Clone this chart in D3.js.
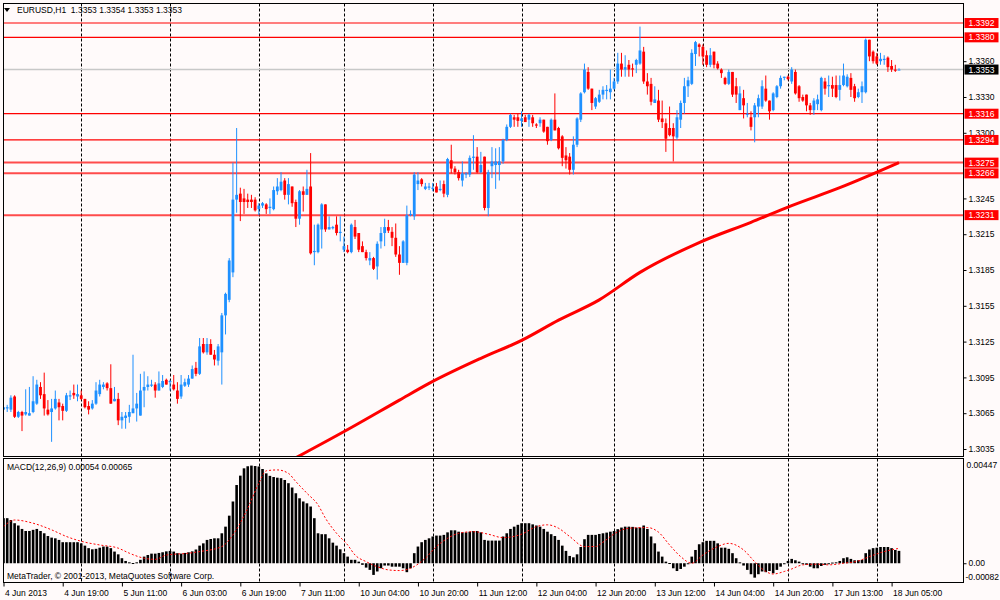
<!DOCTYPE html>
<html>
<head>
<meta charset="utf-8">
<title>EURUSD,H1</title>
<script src="https://cdn.jsdelivr.net/npm/d3@7/dist/d3.min.js"></script>
<style>
  body { margin: 0; background: #fffafa; }
  svg text { font-family: "Liberation Sans", Arial, sans-serif; font-size: 8.5px; }
  .grid { stroke: #000; stroke-width: 1; stroke-dasharray: 3,2; }
  .frame { fill: none; stroke: #000; stroke-width: 1; }
</style>
</head>
<body>
<svg id="chart" width="1000" height="600"></svg>
<script>
// EURUSD H1, 4 Jun 2013 03:00 .. 18 Jun 2013 05:00
var symbol = 'EURUSD', period = 'H1';

var opens = [
  1.3068,1.3069,1.3068,1.3079,1.3062,1.3066,1.3064,1.3063,1.3066,1.3073,
  1.3087,1.3081,1.3068,1.3066,1.3069,1.3074,1.3071,1.3067,1.3079,1.3082,
  1.3079,1.3080,1.3077,1.3071,1.3069,1.3073,1.3081,1.3087,1.3090,1.3086,
  1.3075,1.3077,1.3059,1.3061,1.3062,1.3065,1.3069,1.3063,1.3084,1.3087,
  1.3088,1.3089,1.3084,1.3087,1.3093,1.3091,1.3089,1.3084,1.3079,1.3088,
  1.3089,1.3094,1.3103,1.3098,1.3123,1.3116,1.3123,1.3114,1.3109,1.3116,
  1.3147,1.3160,1.3183,1.3244,1.3249,1.3245,1.3244,1.3244,1.3244,1.3236,
  1.3239,1.3240,1.3237,1.3236,1.3251,1.3252,1.3260,1.3248,1.3255,1.3242,
  1.3228,1.3251,1.3248,1.3255,1.3200,1.3200,1.3219,1.3240,1.3219,1.3220,
  1.3223,1.3216,1.3202,1.3202,1.3200,1.3221,1.3216,1.3205,1.3200,1.3193,
  1.3195,1.3188,1.3209,1.3216,1.3221,1.3217,1.3212,1.3198,1.3191,1.3191,
  1.3231,1.3230,1.3257,1.3261,1.3253,1.3254,1.3253,1.3255,1.3252,1.3257,
  1.3248,1.3277,1.3270,1.3267,1.3260,1.3265,1.3265,1.3279,1.3280,1.3267,
  1.3280,1.3237,1.3272,1.3273,1.3273,1.3276,1.3294,1.3305,1.3313,1.3313,
  1.3310,1.3313,1.3311,1.3313,1.3307,1.3308,1.3311,1.3305,1.3294,1.3311,
  1.3304,1.3297,1.3281,1.3280,1.3269,1.3290,1.3311,1.3334,1.3351,1.3337,
  1.3322,1.3326,1.3332,1.3335,1.3334,1.3337,1.3343,1.3358,1.3353,1.3357,
  1.3354,1.3357,1.3358,1.3368,1.3343,1.3341,1.3325,1.3327,1.3312,1.3308,
  1.3304,1.3304,1.3296,1.3311,1.3325,1.3339,1.3341,1.3366,1.3374,1.3372,
  1.3365,1.3357,1.3368,1.3358,1.3353,1.3346,1.3341,1.3351,1.3339,1.3319,
  1.3329,1.3315,1.3313,1.3313,1.3322,1.3322,1.3337,1.3327,1.3319,1.3330,
  1.3339,1.3346,1.3347,1.3343,1.3351,1.3339,1.3330,1.3332,1.3323,1.3319,
  1.3324,1.3319,1.3343,1.3339,1.3340,1.3340,1.3336,1.3340,1.3339,1.3346,
  1.3339,1.3330,1.3334,1.3334,1.3378,1.3368,1.3364,1.3360,1.3361,1.3363,
  1.3356,1.3353,1.3353
];
var highs = [
  1.3073,1.3072,1.3080,1.3080,1.3067,1.3067,1.3085,1.3087,1.3096,1.3093,
  1.3091,1.3099,1.3076,1.3077,1.3084,1.3077,1.3073,1.3082,1.3084,1.3089,
  1.3089,1.3084,1.3077,1.3075,1.3076,1.3091,1.3093,1.3091,1.3091,1.3106,
  1.3087,1.3082,1.3066,1.3066,1.3072,1.3114,1.3082,1.3098,1.3100,1.3096,
  1.3093,1.3091,1.3100,1.3097,1.3094,1.3093,1.3097,1.3091,1.3097,1.3094,
  1.3097,1.3105,1.3108,1.3128,1.3128,1.3128,1.3127,1.3118,1.3123,1.3149,
  1.3166,1.3195,1.3275,1.3304,1.3254,1.3253,1.3249,1.3248,1.3246,1.3241,
  1.3242,1.3241,1.3245,1.3255,1.3262,1.3267,1.3262,1.3262,1.3255,1.3244,
  1.3252,1.3255,1.3269,1.3283,1.3223,1.3224,1.3241,1.3240,1.3230,1.3222,
  1.3230,1.3230,1.3213,1.3206,1.3224,1.3227,1.3216,1.3209,1.3202,1.3200,
  1.3196,1.3209,1.3221,1.3228,1.3227,1.3221,1.3224,1.3205,1.3210,1.3239,
  1.3235,1.3267,1.3267,1.3262,1.3258,1.3258,1.3258,1.3258,1.3260,1.3260,
  1.3279,1.3290,1.3272,1.3269,1.3276,1.3267,1.3281,1.3298,1.3288,1.3284,
  1.3280,1.3269,1.3288,1.3287,1.3288,1.3295,1.3307,1.3316,1.3315,1.3316,
  1.3318,1.3315,1.3316,1.3315,1.3308,1.3313,1.3311,1.3305,1.3312,1.3333,
  1.3305,1.3298,1.3288,1.3283,1.3297,1.3313,1.3334,1.3358,1.3355,1.3337,
  1.3330,1.3336,1.3339,1.3340,1.3353,1.3346,1.3367,1.3367,1.3365,1.3361,
  1.3358,1.3362,1.3389,1.3372,1.3350,1.3346,1.3339,1.3336,1.3327,1.3312,
  1.3322,1.3308,1.3319,1.3327,1.3346,1.3347,1.3370,1.3377,1.3375,1.3374,
  1.3369,1.3371,1.3368,1.3360,1.3354,1.3347,1.3353,1.3351,1.3346,1.3339,
  1.3336,1.3325,1.3318,1.3325,1.3332,1.3344,1.3348,1.3327,1.3334,1.3340,
  1.3348,1.3347,1.3348,1.3355,1.3353,1.3340,1.3332,1.3332,1.3325,1.3329,
  1.3332,1.3347,1.3346,1.3348,1.3347,1.3348,1.3348,1.3358,1.3349,1.3350,
  1.3341,1.3337,1.3343,1.3379,1.3378,1.3369,1.3367,1.3367,1.3365,1.3364,
  1.3361,1.3357,1.3354
];
var lows = [
  1.3063,1.3066,1.3066,1.3061,1.3061,1.3050,1.3063,1.3063,1.3065,1.3072,
  1.3077,1.3063,1.3063,1.3041,1.3068,1.3059,1.3059,1.3066,1.3076,1.3077,
  1.3075,1.3076,1.3069,1.3064,1.3068,1.3072,1.3079,1.3085,1.3084,1.3073,
  1.3075,1.3055,1.3052,1.3052,1.3057,1.3065,1.3058,1.3063,1.3070,1.3084,
  1.3087,1.3078,1.3084,1.3086,1.3089,1.3084,1.3084,1.3073,1.3077,1.3087,
  1.3087,1.3094,1.3096,1.3097,1.3115,1.3114,1.3114,1.3105,1.3105,1.3089,
  1.3131,1.3158,1.3179,1.3233,1.3226,1.3232,1.3237,1.3237,1.3234,1.3231,
  1.3237,1.3232,1.3232,1.3235,1.3248,1.3251,1.3244,1.3240,1.3238,1.3221,
  1.3223,1.3234,1.3248,1.3198,1.3189,1.3199,1.3203,1.3217,1.3219,1.3219,
  1.3214,1.3209,1.3200,1.3199,1.3199,1.3211,1.3200,1.3200,1.3193,1.3189,
  1.3185,1.3177,1.3203,1.3205,1.3216,1.3205,1.3196,1.3181,1.3191,1.3189,
  1.3230,1.3227,1.3252,1.3255,1.3252,1.3252,1.3251,1.3250,1.3251,1.3246,
  1.3246,1.3266,1.3265,1.3260,1.3255,1.3262,1.3263,1.3269,1.3266,1.3266,
  1.3235,1.3230,1.3262,1.3253,1.3260,1.3274,1.3293,1.3304,1.3305,1.3305,
  1.3305,1.3309,1.3305,1.3305,1.3304,1.3305,1.3300,1.3290,1.3293,1.3302,
  1.3286,1.3272,1.3270,1.3265,1.3265,1.3288,1.3309,1.3333,1.3336,1.3319,
  1.3320,1.3325,1.3328,1.3328,1.3328,1.3336,1.3341,1.3347,1.3347,1.3347,
  1.3347,1.3350,1.3357,1.3341,1.3332,1.3323,1.3325,1.3309,1.3304,1.3284,
  1.3297,1.3276,1.3294,1.3304,1.3316,1.3330,1.3340,1.3356,1.3364,1.3357,
  1.3355,1.3355,1.3354,1.3353,1.3346,1.3340,1.3340,1.3330,1.3325,1.3319,
  1.3312,1.3313,1.3302,1.3292,1.3313,1.3320,1.3326,1.3311,1.3318,1.3329,
  1.3337,1.3344,1.3344,1.3341,1.3332,1.3326,1.3326,1.3318,1.3315,1.3315,
  1.3319,1.3318,1.3332,1.3330,1.3330,1.3329,1.3327,1.3339,1.3338,1.3330,
  1.3326,1.3329,1.3325,1.3333,1.3360,1.3358,1.3357,1.3357,1.3357,1.3351,
  1.3351,1.3351,1.3353
];
var closes = [
  1.3070,1.3070,1.3078,1.3062,1.3066,1.3063,1.3066,1.3065,1.3075,1.3089,
  1.3080,1.3069,1.3064,1.3069,1.3077,1.3070,1.3067,1.3080,1.3080,1.3080,
  1.3081,1.3077,1.3070,1.3068,1.3073,1.3084,1.3089,1.3089,1.3086,1.3073,
  1.3077,1.3059,1.3062,1.3063,1.3066,1.3069,1.3073,1.3084,1.3087,1.3089,
  1.3089,1.3084,1.3090,1.3092,1.3089,1.3092,1.3085,1.3077,1.3089,1.3091,
  1.3094,1.3102,1.3098,1.3121,1.3116,1.3123,1.3114,1.3110,1.3121,1.3147,
  1.3165,1.3193,1.3244,1.3248,1.3242,1.3242,1.3242,1.3242,1.3235,1.3239,
  1.3241,1.3236,1.3238,1.3252,1.3255,1.3259,1.3248,1.3257,1.3241,1.3228,
  1.3251,1.3248,1.3253,1.3199,1.3201,1.3223,1.3240,1.3219,1.3221,1.3221,
  1.3216,1.3217,1.3205,1.3200,1.3223,1.3213,1.3202,1.3200,1.3195,1.3195,
  1.3186,1.3207,1.3216,1.3221,1.3218,1.3212,1.3198,1.3191,1.3209,1.3231,
  1.3232,1.3265,1.3260,1.3257,1.3255,1.3255,1.3254,1.3250,1.3253,1.3249,
  1.3278,1.3270,1.3267,1.3262,1.3266,1.3266,1.3279,1.3280,1.3267,1.3273,
  1.3237,1.3267,1.3276,1.3276,1.3276,1.3294,1.3305,1.3315,1.3311,1.3310,
  1.3312,1.3309,1.3315,1.3308,1.3306,1.3311,1.3301,1.3293,1.3311,1.3302,
  1.3287,1.3279,1.3277,1.3269,1.3290,1.3312,1.3333,1.3353,1.3337,1.3325,
  1.3329,1.3332,1.3336,1.3336,1.3337,1.3343,1.3358,1.3353,1.3355,1.3353,
  1.3353,1.3361,1.3369,1.3343,1.3339,1.3326,1.3328,1.3311,1.3309,1.3295,
  1.3298,1.3297,1.3313,1.3325,1.3339,1.3344,1.3367,1.3376,1.3372,1.3364,
  1.3357,1.3365,1.3357,1.3354,1.3350,1.3341,1.3351,1.3332,1.3332,1.3333,
  1.3323,1.3316,1.3305,1.3323,1.3329,1.3339,1.3327,1.3318,1.3333,1.3339,
  1.3346,1.3347,1.3345,1.3353,1.3333,1.3329,1.3327,1.3323,1.3319,1.3327,
  1.3328,1.3346,1.3337,1.3340,1.3337,1.3330,1.3340,1.3348,1.3347,1.3336,
  1.3329,1.3334,1.3339,1.3378,1.3364,1.3360,1.3358,1.3362,1.3362,1.3355,
  1.3353,1.3352,1.3353
];

// MACD(12,26,9) main histogram, one value per bar
var macd = [
  0.00197,0.00197,0.00189,0.00175,0.00165,0.00150,0.00141,0.00141,0.00146,0.00150,
  0.00141,0.00131,0.00119,0.00112,0.00109,0.00102,0.00092,0.00092,0.00092,0.00092,
  0.00092,0.00087,0.00077,0.00066,0.00061,0.00063,0.00068,0.00073,0.00073,0.00066,
  0.00051,0.00039,0.00022,0.00010,0.00004,0.00001,0.00004,0.00015,0.00029,0.00036,
  0.00042,0.00042,0.00045,0.00048,0.00052,0.00054,0.00051,0.00044,0.00042,0.00045,
  0.00048,0.00052,0.00060,0.00077,0.00087,0.00102,0.00106,0.00109,0.00109,0.00131,
  0.00160,0.00208,0.00270,0.00342,0.00383,0.00415,0.00424,0.00427,0.00425,0.00423,
  0.00412,0.00393,0.00382,0.00377,0.00374,0.00372,0.00364,0.00350,0.00331,0.00306,
  0.00284,0.00270,0.00262,0.00248,0.00197,0.00131,0.00127,0.00127,0.00109,0.00090,
  0.00077,0.00061,0.00044,0.00029,0.00015,0.00015,0.00007,-0.00007,-0.00019,-0.00029,
  -0.00051,-0.00036,-0.00022,-0.00010,-0.00010,-0.00015,-0.00015,-0.00015,-0.00022,-0.00039,
  -0.00022,0.00044,0.00073,0.00092,0.00102,0.00109,0.00117,0.00121,0.00121,0.00124,
  0.00135,0.00144,0.00144,0.00138,0.00135,0.00135,0.00138,0.00141,0.00141,0.00135,
  0.00102,0.00099,0.00099,0.00099,0.00099,0.00117,0.00131,0.00150,0.00160,0.00168,
  0.00175,0.00175,0.00175,0.00170,0.00165,0.00160,0.00150,0.00138,0.00127,0.00119,
  0.00102,0.00077,0.00054,0.00032,0.00026,0.00039,0.00071,0.00105,0.00124,0.00124,
  0.00124,0.00128,0.00131,0.00134,0.00138,0.00141,0.00149,0.00156,0.00160,0.00160,
  0.00159,0.00156,0.00156,0.00165,0.00150,0.00117,0.00087,0.00051,0.00029,0.00007,
  0.00001,-0.00022,-0.00034,-0.00025,-0.00015,0.00000,0.00029,0.00058,0.00083,0.00092,
  0.00098,0.00098,0.00098,0.00087,0.00068,0.00068,0.00063,0.00044,0.00022,0.00004,
  -0.00010,-0.00029,-0.00048,-0.00063,-0.00048,-0.00036,-0.00039,-0.00034,-0.00044,-0.00029,
  -0.00015,-0.00004,0.00010,0.00019,0.00013,0.00007,0.00000,-0.00007,-0.00015,-0.00022,
  -0.00022,-0.00012,-0.00007,0.00000,0.00003,0.00004,0.00010,0.00022,0.00026,0.00019,
  0.00013,0.00013,0.00015,0.00044,0.00060,0.00066,0.00068,0.00071,0.00071,0.00071,
  0.00066,0.00058,0.00054
];

// signal line, read at these bars
var signalBars = [0,3,8,13,17,22,26,31,34,38,41,44,50,53,59,62,66,69,71,74,
  77,79,82,85,87,90,93,95,98,101,104,107,110,114,117,120,123,127,131,135,
  140,144,147,150,153,157,160,162,165,169,174,177,180,183,186,189,193,196,200,203,
  206,208,211,213,216,220,223,227,231,234,238,242];
var signalValues = [0.00160,0.00189,0.00175,0.00146,0.00117,0.00092,0.00080,0.00066,0.00044,0.00022,
  0.00017,0.00036,0.00044,0.00051,0.00073,0.00124,0.00240,0.00350,0.00404,0.00408,
  0.00393,0.00357,0.00306,0.00255,0.00197,0.00131,0.00080,0.00036,0.00007,-0.00015,
  -0.00029,-0.00032,-0.00022,0.00022,0.00073,0.00109,0.00131,0.00138,0.00127,0.00112,
  0.00127,0.00160,0.00168,0.00153,0.00117,0.00073,0.00073,0.00092,0.00128,0.00153,
  0.00156,0.00136,0.00080,0.00029,0.00000,0.00036,0.00073,0.00087,0.00058,0.00007,
  -0.00036,-0.00047,-0.00036,-0.00025,-0.00007,-0.00004,-0.00007,0.00000,0.00010,0.00029,
  0.00051,0.00065];

// long moving average (thick red line), read at these bars
var maBars = [78,94,107,115,129,140,150,161,172,188,202,213,226,242];
var maValues = [1.3026,1.3053,1.3076,1.3090,1.3111,1.3126,1.3143,1.3160,1.3183,1.3208,1.3225,1.3239,1.3254,1.3275];

// horizontal levels and axis labels
var levels = [1.3392, 1.3380, 1.3316, 1.3294, 1.3275, 1.3266, 1.3231];
var priceTicks = [1.3360, 1.3330, 1.3300, 1.3245, 1.3215, 1.3185, 1.3155, 1.3125, 1.3095, 1.3065, 1.3035];
var macdTicks = [0.00447, 0, -0.00082];
var macdTickLabels = ['0.00447', '0.00', '-0.00082'];
var gridBars = [21, 45, 69, 92, 116, 140, 165, 189, 212, 236];
var timeBars = [0, 16, 32, 48, 64, 80, 96, 112, 128, 144, 160, 176, 192, 208, 224, 240];
var timeLabels = ['4 Jun 2013', '4 Jun 19:00', '5 Jun 11:00', '6 Jun 03:00', '6 Jun 19:00', '7 Jun 11:00',
  '10 Jun 04:00', '10 Jun 20:00', '11 Jun 12:00', '12 Jun 04:00', '12 Jun 20:00', '13 Jun 12:00',
  '14 Jun 04:00', '14 Jun 20:00', '17 Jun 13:00', '18 Jun 05:00'];

var bull = '#1e90ff', bear = '#ff0000', bg = '#fffafa';
var main = { left: 3.5, right: 963.5, top: 3.5, bottom: 456.5 };
var sub = { top: 458.5, bottom: 582.5 };
var n = opens.length, last = n - 1;

var svg = d3.select('#chart');

var x = d3.scaleLinear().domain([0, last]).range([3.5, 899]);
var y = d3.scaleLinear().domain([1.3035, 1.3360]).range([449, 61.2]);
var ym = d3.scaleLinear().domain([-0.00082, 0.00447]).range([582, 461]);

svg.append('rect').attr('width', 1000).attr('height', 600).attr('fill', bg);

var defs = svg.append('defs');
defs.append('clipPath').attr('id', 'clip-main').append('rect')
  .attr('x', main.left).attr('y', main.top)
  .attr('width', main.right - main.left).attr('height', main.bottom - main.top);
defs.append('clipPath').attr('id', 'clip-sub').append('rect')
  .attr('x', main.left).attr('y', sub.top)
  .attr('width', main.right - main.left).attr('height', sub.bottom - sub.top);

//vertical dotted grid in both panels
[[main.top, main.bottom], [sub.top, sub.bottom]].forEach(function (p) {
  svg.append('g').selectAll('line')
    .data(gridBars)
    .enter().append('line')
    .attr('class', 'grid')
    .attr('x1', d => Math.round(x(d)) + 0.5).attr('x2', d => Math.round(x(d)) + 0.5)
    .attr('y1', p[0]).attr('y2', p[1]);
});

var gMain = svg.append('g').attr('clip-path', 'url(#clip-main)');

//bid line
gMain.append('line')
  .attr('x1', main.left).attr('x2', main.right)
  .attr('y1', y(closes[last])).attr('y2', y(closes[last]))
  .attr('stroke', '#c8c8c8').attr('stroke-width', 1.5);

//horizontal levels (the lower three are drawn a bit heavier)
gMain.selectAll('.level')
  .data(levels)
  .enter().append('line')
  .attr('class', 'level')
  .attr('x1', main.left).attr('x2', main.right)
  .attr('y1', d => y(d)).attr('y2', d => y(d))
  .attr('stroke', bear)
  .attr('stroke-opacity', d => d < 1.3280 ? 0.7 : 1)
  .attr('stroke-width', d => d < 1.3280 ? 2 : 1.2);

//moving average
gMain.append('path')
  .datum(maBars.map((b, i) => [b, maValues[i]]))
  .attr('fill', 'none')
  .attr('stroke', bear)
  .attr('stroke-width', 3)
  .attr('d', d3.line().x(d => x(d[0])).y(d => y(d[1])).curve(d3.curveMonotoneX));

//candles
var candle = gMain.selectAll('.candle')
  .data(d3.range(n))
  .enter().append('g')
  .attr('class', 'candle')
  .attr('fill', i => closes[i] >= opens[i] ? bull : bear)
  .attr('stroke', i => closes[i] >= opens[i] ? bull : bear);

candle.append('line')
  .attr('x1', i => x(i)).attr('x2', i => x(i))
  .attr('y1', i => y(highs[i])).attr('y2', i => y(lows[i]))
  .attr('stroke-width', 1);

candle.append('rect')
  .attr('stroke', 'none')
  .attr('x', i => x(i) - 1.4)
  .attr('width', 2.8)
  .attr('y', i => y(Math.max(opens[i], closes[i])))
  .attr('height', i => Math.max(1, Math.abs(y(opens[i]) - y(closes[i]))));

//MACD panel
var gSub = svg.append('g').attr('clip-path', 'url(#clip-sub)');

gSub.selectAll('.hist')
  .data(d3.range(n))
  .enter().append('rect')
  .attr('class', 'hist')
  .attr('fill', '#000')
  .attr('x', i => x(i) - 1.3)
  .attr('width', 2.6)
  .attr('y', i => ym(Math.max(macd[i], 0)))
  .attr('height', i => Math.max(1, Math.abs(ym(macd[i]) - ym(0))));

gSub.append('path')
  .datum(signalBars.map((b, i) => [b, signalValues[i]]))
  .attr('fill', 'none')
  .attr('stroke', bear)
  .attr('stroke-width', 1)
  .attr('stroke-dasharray', '2,2')
  .attr('d', d3.line().x(d => x(d[0])).y(d => ym(d[1])).curve(d3.curveMonotoneX));

//frames
svg.append('rect').attr('class', 'frame')
  .attr('x', main.left).attr('y', main.top)
  .attr('width', main.right - main.left).attr('height', main.bottom - main.top);
svg.append('rect').attr('class', 'frame')
  .attr('x', main.left).attr('y', sub.top)
  .attr('width', main.right - main.left).attr('height', sub.bottom - sub.top);

//price axis
var priceAxis = svg.append('g')
  .attr('transform', 'translate(' + main.right + ',0)')
  .call(d3.axisRight(y).tickValues(priceTicks).tickFormat(d3.format('.4f')).tickSize(3).tickPadding(2));
priceAxis.select('.domain').remove();
priceAxis.selectAll('text').attr('font-size', '8.5px').attr('font-family', null);

//level labels
var fmt4 = d3.format('.4f'), fmt5 = d3.format('.5f');
var boxes = svg.append('g').selectAll('g')
  .data(levels.map(v => ({ v: v, fill: bear })).concat([{ v: closes[last], fill: '#000' }]))
  .enter().append('g')
  .attr('transform', d => 'translate(' + (main.right + 1) + ',' + y(d.v) + ')');
boxes.append('rect')
  .attr('x', 0).attr('y', -5).attr('width', 34).attr('height', 10)
  .attr('fill', d => d.fill);
boxes.append('text')
  .attr('x', 4).attr('y', 0).attr('dy', '0.35em')
  .attr('fill', '#fff')
  .text(d => fmt4(d.v));

//MACD axis
var macdAxis = svg.append('g')
  .attr('transform', 'translate(' + main.right + ',0)')
  .call(d3.axisRight(ym).tickValues(macdTicks).tickFormat((d, i) => macdTickLabels[i]).tickSize(3).tickPadding(0));
macdAxis.select('.domain').remove();
macdAxis.selectAll('.tick').filter(d => d !== 0).select('line').remove();
macdAxis.selectAll('text').attr('font-size', '8.2px').attr('font-family', null)
  .attr('transform', d => d > 0 ? 'translate(0,4)' : d < 0 ? 'translate(-1,-5)' : 'translate(2,0)');

//time axis
var timeAxis = svg.append('g')
  .attr('transform', 'translate(0,' + sub.bottom + ')')
  .call(d3.axisBottom(x).tickValues(timeBars).tickFormat((d, i) => timeLabels[i]).tickSize(4).tickPadding(3));
timeAxis.select('.domain').remove();
timeAxis.selectAll('text').attr('text-anchor', 'start').attr('x', 1)
  .attr('font-size', '8.5px').attr('font-family', null);

//header texts
svg.append('path')
  .attr('d', 'M4,8 L10,8 L7,12 Z')
  .attr('fill', '#000');
svg.append('text')
  .attr('x', 17).attr('y', 13)
  .text(symbol + ',' + period + '  ' + [opens[last], highs[last], lows[last], closes[last]].map(fmt4).join(' '))
  .attr('xml:space', 'preserve');
svg.append('text')
  .attr('x', 7).attr('y', 470)
  .text('MACD(12,26,9) ' + fmt5(macd[last]) + ' ' + fmt5(signalValues[signalValues.length - 1]));
svg.append('text')
  .attr('x', 7).attr('y', 579)
  .text('MetaTrader, © 2001-2013, MetaQuotes Software Corp.');
</script>
</body>
</html>
